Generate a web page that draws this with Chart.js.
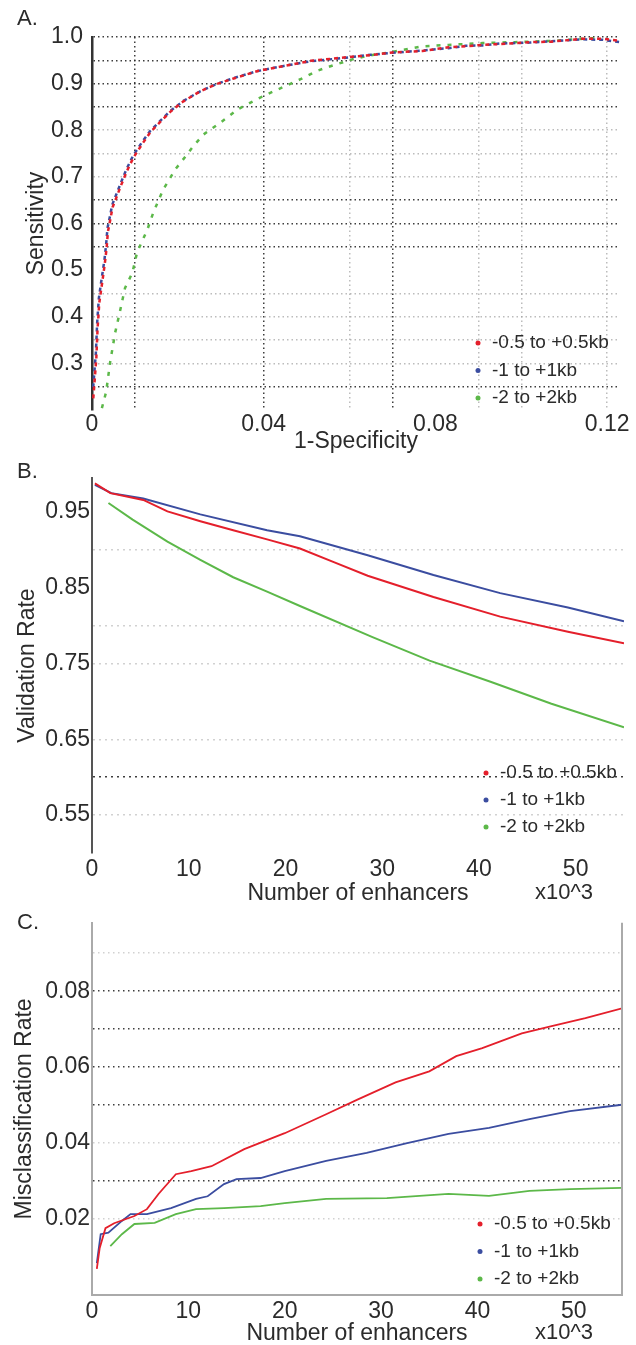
<!DOCTYPE html>
<html>
<head>
<meta charset="utf-8">
<script src="https://cdn.jsdelivr.net/npm/chart.js@4.4.1/dist/chart.umd.min.js"></script>
<style>
  body { margin: 0; background: #fff; }
  canvas { position: absolute; left: 0; }
</style>
</head>
<body>
<canvas id="rocChart" width="636" height="455" style="top:0px"></canvas>
<canvas id="valChart" width="636" height="452" style="top:455px"></canvas>
<canvas id="misChart" width="636" height="438" style="top:907px"></canvas>
<script>
// series names
const seriesNames = ['-0.5 to +0.5kb', '-1 to +1kb', '-2 to +2kb'];
const colors = ['#e41f2b', '#3b4da0', '#5cb849'];

// A. sensitivity vs 1-specificity
const rocRedX = [0.0003, 0.001, 0.0013, 0.0017, 0.0024, 0.003, 0.0034, 0.0037, 0.0043, 0.0048, 0.0057, 0.0066, 0.0081, 0.0097, 0.0118, 0.0137, 0.016, 0.0183, 0.0213, 0.0253, 0.029, 0.033, 0.0386, 0.0447, 0.051, 0.0597, 0.065, 0.070, 0.077, 0.083, 0.087, 0.091, 0.095, 0.102, 0.107, 0.114, 0.119, 0.123];
const rocRedY = [0.225, 0.31, 0.375, 0.43, 0.475, 0.515, 0.547, 0.582, 0.61, 0.635, 0.656, 0.678, 0.712, 0.742, 0.772, 0.797, 0.819, 0.84, 0.862, 0.884, 0.899, 0.911, 0.927, 0.938, 0.949, 0.957, 0.961, 0.967, 0.970, 0.978, 0.980, 0.983, 0.985, 0.989, 0.990, 0.996, 0.996, 0.992];
const rocBlueX = [0.0002, 0.0009, 0.0012, 0.0016, 0.0023, 0.0029, 0.0033, 0.0036, 0.0042, 0.0047, 0.0056, 0.0065, 0.008, 0.0096, 0.0117, 0.0136, 0.016, 0.0182, 0.0213, 0.0253, 0.029, 0.033, 0.0386, 0.0447, 0.051, 0.0597, 0.065, 0.070, 0.077, 0.083, 0.087, 0.091, 0.095, 0.102, 0.107, 0.114, 0.119, 0.123];
const rocBlueY = [0.24, 0.322, 0.387, 0.44, 0.485, 0.522, 0.556, 0.59, 0.616, 0.64, 0.661, 0.682, 0.716, 0.746, 0.775, 0.799, 0.821, 0.841, 0.863, 0.884, 0.899, 0.912, 0.927, 0.938, 0.948, 0.956, 0.962, 0.966, 0.971, 0.976, 0.981, 0.982, 0.986, 0.988, 0.991, 0.995, 0.994, 0.989];
const rocGreenX = [0.0023, 0.0033, 0.0042, 0.0054, 0.0065, 0.0077, 0.0094, 0.0105, 0.0129, 0.0143, 0.0166, 0.0194, 0.0218, 0.0236, 0.026, 0.03, 0.034, 0.0398, 0.0424, 0.0456, 0.0487, 0.0523, 0.0564, 0.061, 0.065, 0.070, 0.077, 0.083, 0.091, 0.0985, 0.108, 0.117];
const rocGreenY = [0.204, 0.239, 0.301, 0.366, 0.411, 0.462, 0.494, 0.538, 0.587, 0.624, 0.673, 0.716, 0.744, 0.766, 0.791, 0.817, 0.845, 0.873, 0.884, 0.897, 0.91, 0.927, 0.94, 0.953, 0.961, 0.968, 0.98, 0.983, 0.987, 0.989, 0.992, 0.998];
const rocXTicks = [0, 0.01, 0.02, 0.03, 0.04, 0.05, 0.06, 0.07, 0.08, 0.09, 0.10, 0.11, 0.12];

// B. validation rate vs number of enhancers (x10^3)
const valRedX = [0.3, 1.9, 5.3, 7.8, 11.2, 14.6, 18.1, 21.5, 25, 28.5, 35.3, 42.2, 49.2, 55];
const valRedY = [0.988, 0.975, 0.966, 0.951, 0.938, 0.926, 0.914, 0.902, 0.884, 0.866, 0.838, 0.812, 0.792, 0.777];
const valBlueX = [0.3, 2, 5.3, 11.2, 18.1, 21.5, 28.5, 35.3, 42.2, 49.2, 55];
const valBlueY = [0.986, 0.975, 0.968, 0.947, 0.926, 0.918, 0.893, 0.867, 0.843, 0.824, 0.806];
const valGreenX = [1.7, 4.2, 7.8, 11.2, 14.6, 18.1, 21.5, 29, 34.9, 41.2, 47.5, 55];
const valGreenY = [0.962, 0.94, 0.911, 0.887, 0.864, 0.845, 0.826, 0.785, 0.754, 0.726, 0.697, 0.666];

// C. misclassification rate vs number of enhancers (x10^3)
const misRedX = [0.5, 0.8, 1.4, 2.3, 4.4, 5.7, 6.9, 8.7, 10.3, 12.4, 15.8, 20, 24.3, 27.6, 31.5, 35, 37.8, 40.5, 44.6, 47.7, 51.2, 55];
const misRedY = [0.0069, 0.0124, 0.0176, 0.0189, 0.0208, 0.0226, 0.0266, 0.0318, 0.0326, 0.0339, 0.0384, 0.0426, 0.0476, 0.0515, 0.056, 0.0589, 0.0629, 0.065, 0.0689, 0.0708, 0.0729, 0.0755];
const misBlueX = [0.5, 0.9, 1.7, 3.1, 4, 5.7, 8.2, 10.8, 12, 13.7, 15, 17.5, 20, 24.3, 28.5, 32.7, 37, 41.2, 45.4, 49.6, 55];
const misBlueY = [0.0084, 0.016, 0.0164, 0.0195, 0.0213, 0.0213, 0.0229, 0.0253, 0.026, 0.0292, 0.0305, 0.0308, 0.0326, 0.0353, 0.0374, 0.04, 0.0424, 0.044, 0.0463, 0.0484, 0.0501];
const misGreenX = [1.9, 3.1, 4.4, 6.5, 8.7, 10.8, 13.7, 17.5, 20, 24.3, 30.6, 37, 41.2, 45.4, 49.6, 55];
const misGreenY = [0.0129, 0.016, 0.0187, 0.019, 0.0213, 0.0226, 0.0229, 0.0234, 0.0242, 0.0253, 0.0255, 0.0266, 0.0261, 0.0274, 0.0279, 0.0282];

Chart.defaults.font.family = '"Liberation Sans", Arial, Helvetica, sans-serif';
Chart.defaults.color = '#2b2b2b';

function pts(xs, ys) {
	return xs.map((x, i) => ({ x: x, y: ys[i] }));
}

const DARK = 'rgba(40,40,40,0.9)';
const LIGHT = 'rgba(160,160,160,0.7)';

// panel letter, legend, unit label
function overlay(o) {
	return {
		id: 'overlay',
		afterDraw(chart) {
			const ctx = chart.ctx;
			ctx.save();
			ctx.textBaseline = 'middle';
			ctx.textAlign = 'left';
			ctx.fillStyle = '#2b2b2b';
			ctx.font = '22px "Liberation Sans", Arial, sans-serif';
			ctx.fillText(o.letter, 17, o.letterY);
			if (o.unitY) ctx.fillText('x10^3', 535, o.unitY);
			ctx.font = '19px "Liberation Sans", Arial, sans-serif';
			chart.data.datasets.forEach((ds, i) => {
				const y = o.legY + i * o.legGap;
				ctx.fillStyle = ds.borderColor;
				ctx.beginPath();
				ctx.arc(o.legX, y, 2.5, 0, Math.PI * 2);
				ctx.fill();
				ctx.fillStyle = '#2b2b2b';
				ctx.fillText(ds.label, o.legX + 14, y);
			});
			if (o.rightBorder) {
				const a = chart.chartArea;
				ctx.strokeStyle = '#aaa';
				ctx.lineWidth = 2;
				ctx.beginPath();
				ctx.moveTo(a.right, a.top);
				ctx.lineTo(a.right, a.bottom);
				ctx.stroke();
			}
			ctx.restore();
		}
	};
}

// ---------- A ----------
const rocYDark = [1000, 950, 900, 850, 650, 600, 550, 250];
const rocYLight = [800, 750, 700, 450, 400, 350, 300];
const rocXDark = [10, 40, 70];
const rocXLight = [60, 90, 100, 120];

new Chart(document.getElementById('rocChart'), {
	type: 'scatter',
	data: {
		datasets: [
			{ label: seriesNames[0], data: pts(rocRedX, rocRedY), borderColor: colors[0], backgroundColor: colors[0], showLine: true, borderWidth: 2.5, borderDash: [4, 4], pointRadius: 0 },
			{ label: seriesNames[1], data: pts(rocBlueX, rocBlueY), borderColor: colors[1], backgroundColor: colors[1], showLine: true, borderWidth: 2.5, borderDash: [4, 4], borderDashOffset: 4, pointRadius: 0 },
			{ label: seriesNames[2], data: pts(rocGreenX, rocGreenY), borderColor: colors[2], backgroundColor: colors[2], showLine: true, borderWidth: 2.5, borderDash: [4, 7], pointRadius: 0 }
		]
	},
	options: {
		responsive: false,
		animation: false,
		layout: { padding: { top: 37, right: 16, left: 0, bottom: 0 } },
		plugins: { legend: { display: false }, tooltip: { enabled: false } },
		scales: {
			x: {
				type: 'linear', min: 0, max: 0.123,
				afterFit: s => { s.height = 45; },
				afterBuildTicks: s => { s.ticks = rocXTicks.map(v => ({ value: v })); },
				ticks: {
					autoSkip: false, maxRotation: 0, padding: 1,
					font: { size: 23 },
					callback: v => {
						const k = Math.round(v * 1000);
						if (k === 0) return '0';
						return (k % 40 === 0 && k <= 120) ? (k / 1000).toFixed(2) : '';
					}
				},
				grid: {
					drawTicks: false,
					lineWidth: 1.5,
					color: c => {
						const k = Math.round(c.tick.value * 1000);
						if (rocXDark.includes(k)) return DARK;
						if (rocXLight.includes(k)) return LIGHT;
						return 'rgba(0,0,0,0)';
					}
				},
				border: { display: false, dash: [1.5, 3] },
				title: { display: true, text: '1-Specificity', font: { size: 23, lineHeight: 1 }, padding: { top: 0, bottom: 2 } }
			},
			y: {
				min: 0.2, max: 1.0,
				afterFit: s => { s.width = 92; },
				ticks: {
					stepSize: 0.05, autoSkip: false, padding: 9,
					font: { size: 23 },
					callback: v => {
						const k = Math.round(v * 1000);
						return (k % 100 === 0 && k >= 300) ? (k / 1000).toFixed(1) : '';
					}
				},
				grid: {
					drawTicks: false,
					lineWidth: 1.5,
					color: c => {
						const k = Math.round(c.tick.value * 1000);
						if (rocYDark.includes(k)) return DARK;
						if (rocYLight.includes(k)) return LIGHT;
						return 'rgba(0,0,0,0)';
					}
				},
				border: { display: true, color: '#333', width: 2.5, dash: [1.5, 3] },
				title: { display: true, text: 'Sensitivity', font: { size: 23, lineHeight: 1 }, padding: { top: 25, bottom: 0 } }
			}
		}
	},
	plugins: [overlay({ letter: 'A.', letterY: 19, legX: 478, legY: 343, legGap: 27.5 })]
});

// ---------- B ----------
const valYDark = [600];
const valYLight = [900, 800, 750, 650, 550];

new Chart(document.getElementById('valChart'), {
	type: 'scatter',
	data: {
		datasets: [
			{ label: seriesNames[0], data: pts(valRedX, valRedY), borderColor: colors[0], backgroundColor: colors[0], showLine: true, borderWidth: 2, pointRadius: 0 },
			{ label: seriesNames[1], data: pts(valBlueX, valBlueY), borderColor: colors[1], backgroundColor: colors[1], showLine: true, borderWidth: 2, pointRadius: 0 },
			{ label: seriesNames[2], data: pts(valGreenX, valGreenY), borderColor: colors[2], backgroundColor: colors[2], showLine: true, borderWidth: 2, pointRadius: 0 }
		]
	},
	options: {
		responsive: false,
		animation: false,
		layout: { padding: { top: 23, right: 12, left: 0, bottom: 0 } },
		plugins: { legend: { display: false }, tooltip: { enabled: false } },
		scales: {
			x: {
				type: 'linear', min: 0, max: 55,
				afterFit: s => { s.height = 54; },
				ticks: {
					stepSize: 10, autoSkip: false, maxRotation: 0, padding: -5,
					font: { size: 23 },
					callback: v => (v % 10 === 0 ? String(v) : '')
				},
				grid: { display: false },
				border: { display: false },
				title: { display: true, text: 'Number of enhancers', font: { size: 23, lineHeight: 1 }, padding: { top: 0, bottom: 2 } }
			},
			y: {
				min: 0.5, max: 0.995,
				afterFit: s => { s.width = 92; },
				ticks: {
					stepSize: 0.05, autoSkip: false, padding: 2,
					font: { size: 23 },
					callback: v => {
						const k = Math.round(v * 1000);
						return (k % 100 === 50) ? (k / 1000).toFixed(2) : '';
					}
				},
				grid: {
					drawTicks: false,
					lineWidth: 1.5,
					color: c => {
						const k = Math.round(c.tick.value * 1000);
						if (valYDark.includes(k)) return DARK;
						if (valYLight.includes(k)) return 'rgba(190,190,190,0.7)';
						return 'rgba(0,0,0,0)';
					}
				},
				border: { display: true, color: '#555', width: 2, dash: [2, 4] },
				title: { display: true, text: 'Validation Rate', font: { size: 23, lineHeight: 1 }, padding: { top: 16, bottom: 0 } }
			}
		}
	},
	plugins: [overlay({ letter: 'B.', letterY: 17, legX: 486, legY: 318, legGap: 27, unitY: 438 })]
});

// ---------- C ----------
const misYDark = [80, 70, 60, 50, 30];
const misYLight = [90, 40, 20];

new Chart(document.getElementById('misChart'), {
	type: 'scatter',
	data: {
		datasets: [
			{ label: seriesNames[0], data: pts(misRedX, misRedY), borderColor: colors[0], backgroundColor: colors[0], showLine: true, borderWidth: 1.8, pointRadius: 0 },
			{ label: seriesNames[1], data: pts(misBlueX, misBlueY), borderColor: colors[1], backgroundColor: colors[1], showLine: true, borderWidth: 1.8, pointRadius: 0 },
			{ label: seriesNames[2], data: pts(misGreenX, misGreenY), borderColor: colors[2], backgroundColor: colors[2], showLine: true, borderWidth: 1.8, pointRadius: 0 }
		]
	},
	options: {
		responsive: false,
		animation: false,
		layout: { padding: { top: 13, right: 14, left: 0, bottom: 0 } },
		plugins: { legend: { display: false }, tooltip: { enabled: false } },
		scales: {
			x: {
				type: 'linear', min: 0, max: 55,
				afterFit: s => { s.height = 50; },
				ticks: {
					stepSize: 10, autoSkip: false, maxRotation: 0, padding: -5,
					font: { size: 23 },
					callback: v => (v % 10 === 0 ? String(v) : '')
				},
				grid: { display: false },
				border: { display: true, color: '#aaa', width: 2 },
				title: { display: true, text: 'Number of enhancers', font: { size: 23, lineHeight: 1 }, padding: { top: 0, bottom: 0 } }
			},
			y: {
				min: 0, max: 0.098,
				afterFit: s => { s.width = 92; },
				ticks: {
					stepSize: 0.01, autoSkip: false, padding: 2,
					font: { size: 23 },
					callback: v => {
						const k = Math.round(v * 1000);
						return (k > 0 && k % 20 === 0) ? (k / 1000).toFixed(2) : '';
					}
				},
				grid: {
					drawTicks: false,
					lineWidth: 1.5,
					color: c => {
						const k = Math.round(c.tick.value * 1000);
						if (misYDark.includes(k)) return DARK;
						if (misYLight.includes(k)) return 'rgba(190,190,190,0.7)';
						return 'rgba(0,0,0,0)';
					}
				},
				border: { display: true, color: '#aaa', width: 2, dash: [1.5, 3.5] },
				title: { display: true, text: 'Misclassification Rate', font: { size: 23, lineHeight: 1 }, padding: { top: 13, bottom: 0 } }
			}
		}
	},
	plugins: [overlay({ letter: 'C.', letterY: 16, legX: 480, legY: 317, legGap: 27.5, unitY: 426, rightBorder: true })]
});
</script>
</body>
</html>
